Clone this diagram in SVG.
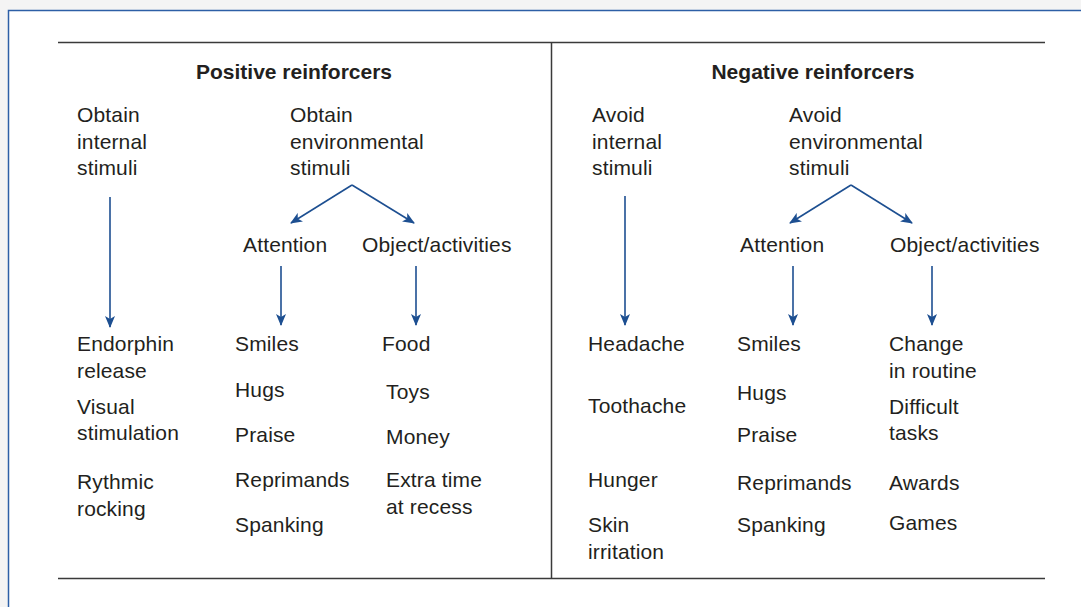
<svg xmlns="http://www.w3.org/2000/svg" width="1081" height="607" viewBox="0 0 1081 607">
<style>
text{font-family:"Liberation Sans",Arial,sans-serif;font-size:21px;letter-spacing:0.15px;fill:#231f20}
.t{font-weight:bold;text-anchor:middle;letter-spacing:0}
.rule{stroke:#3a3a3a;stroke-width:1.5;fill:none}
.arr{stroke:#1d4f91;stroke-width:1.6;fill:none;marker-end:url(#ah)}
</style>
<defs>
<marker id="ah" viewBox="0 0 12 10" refX="11" refY="5" markerWidth="12" markerHeight="10" markerUnits="userSpaceOnUse" orient="auto">
<path d="M0,0 L12,5 L0,10 L3,5 Z" fill="#1d4f91"/>
</marker>
</defs>
<rect x="0" y="0" width="1081" height="607" fill="#f4f4f4"/>
<rect x="8.5" y="10.5" width="1100" height="700" fill="#ffffff" stroke="#2d5fa6" stroke-width="1.5"/>
<g id="frame">
<line class="rule" x1="58" y1="42.5" x2="1045" y2="42.5"/>
<line class="rule" x1="58" y1="578.5" x2="1045" y2="578.5"/>
<line class="rule" x1="551.5" y1="42" x2="551.5" y2="579"/>
</g>
<g id="title-pos"><text class="t" x="294" y="78.5">Positive reinforcers</text></g>
<g id="title-neg"><text class="t" x="813" y="78.5">Negative reinforcers</text></g>
<g id="pos-internal"><text x="77" y="122">Obtain</text><text x="77" y="148.5">internal</text><text x="77" y="175">stimuli</text></g>
<g id="pos-env"><text x="290" y="122">Obtain</text><text x="290" y="148.5">environmental</text><text x="290" y="175">stimuli</text></g>
<g id="pos-attention"><text x="243" y="252">Attention</text></g>
<g id="pos-object"><text x="362" y="252">Object/activities</text></g>
<g id="pos-internal-items"><text x="77" y="351">Endorphin</text><text x="77" y="378">release</text><text x="77" y="414">Visual</text><text x="77" y="440">stimulation</text><text x="77" y="489">Rythmic</text><text x="77" y="516">rocking</text></g>
<g id="pos-attention-items"><text x="235" y="351">Smiles</text><text x="235" y="397">Hugs</text><text x="235" y="442">Praise</text><text x="235" y="487">Reprimands</text><text x="235" y="532">Spanking</text></g>
<g id="pos-object-items"><text x="382" y="351">Food</text><text x="386" y="399">Toys</text><text x="386" y="444">Money</text><text x="386" y="487">Extra time</text><text x="386" y="514">at recess</text></g>
<g id="neg-internal"><text x="592" y="122">Avoid</text><text x="592" y="148.5">internal</text><text x="592" y="175">stimuli</text></g>
<g id="neg-env"><text x="789" y="122">Avoid</text><text x="789" y="148.5">environmental</text><text x="789" y="175">stimuli</text></g>
<g id="neg-attention"><text x="740" y="252">Attention</text></g>
<g id="neg-object"><text x="890" y="252">Object/activities</text></g>
<g id="neg-internal-items"><text x="588" y="351">Headache</text><text x="588" y="413">Toothache</text><text x="588" y="487">Hunger</text><text x="588" y="532">Skin</text><text x="588" y="559">irritation</text></g>
<g id="neg-attention-items"><text x="737" y="351">Smiles</text><text x="737" y="400">Hugs</text><text x="737" y="442">Praise</text><text x="737" y="490">Reprimands</text><text x="737" y="532">Spanking</text></g>
<g id="neg-object-items"><text x="889" y="351">Change</text><text x="889" y="378">in routine</text><text x="889" y="414">Difficult</text><text x="889" y="440">tasks</text><text x="889" y="490">Awards</text><text x="889" y="530">Games</text></g>
<g id="connectors">
<line class="arr" x1="110" y1="197" x2="110" y2="327"/>
<line class="arr" x1="352" y1="185" x2="291" y2="223"/>
<line class="arr" x1="352" y1="185" x2="414" y2="223"/>
<line class="arr" x1="281" y1="266" x2="281" y2="325"/>
<line class="arr" x1="416" y1="266" x2="416" y2="325"/>
<line class="arr" x1="625" y1="196" x2="625" y2="325"/>
<line class="arr" x1="851" y1="185" x2="790" y2="223"/>
<line class="arr" x1="851" y1="185" x2="912" y2="223"/>
<line class="arr" x1="793" y1="266" x2="793" y2="325"/>
<line class="arr" x1="932" y1="266" x2="932" y2="325"/>
</g>
</svg>
